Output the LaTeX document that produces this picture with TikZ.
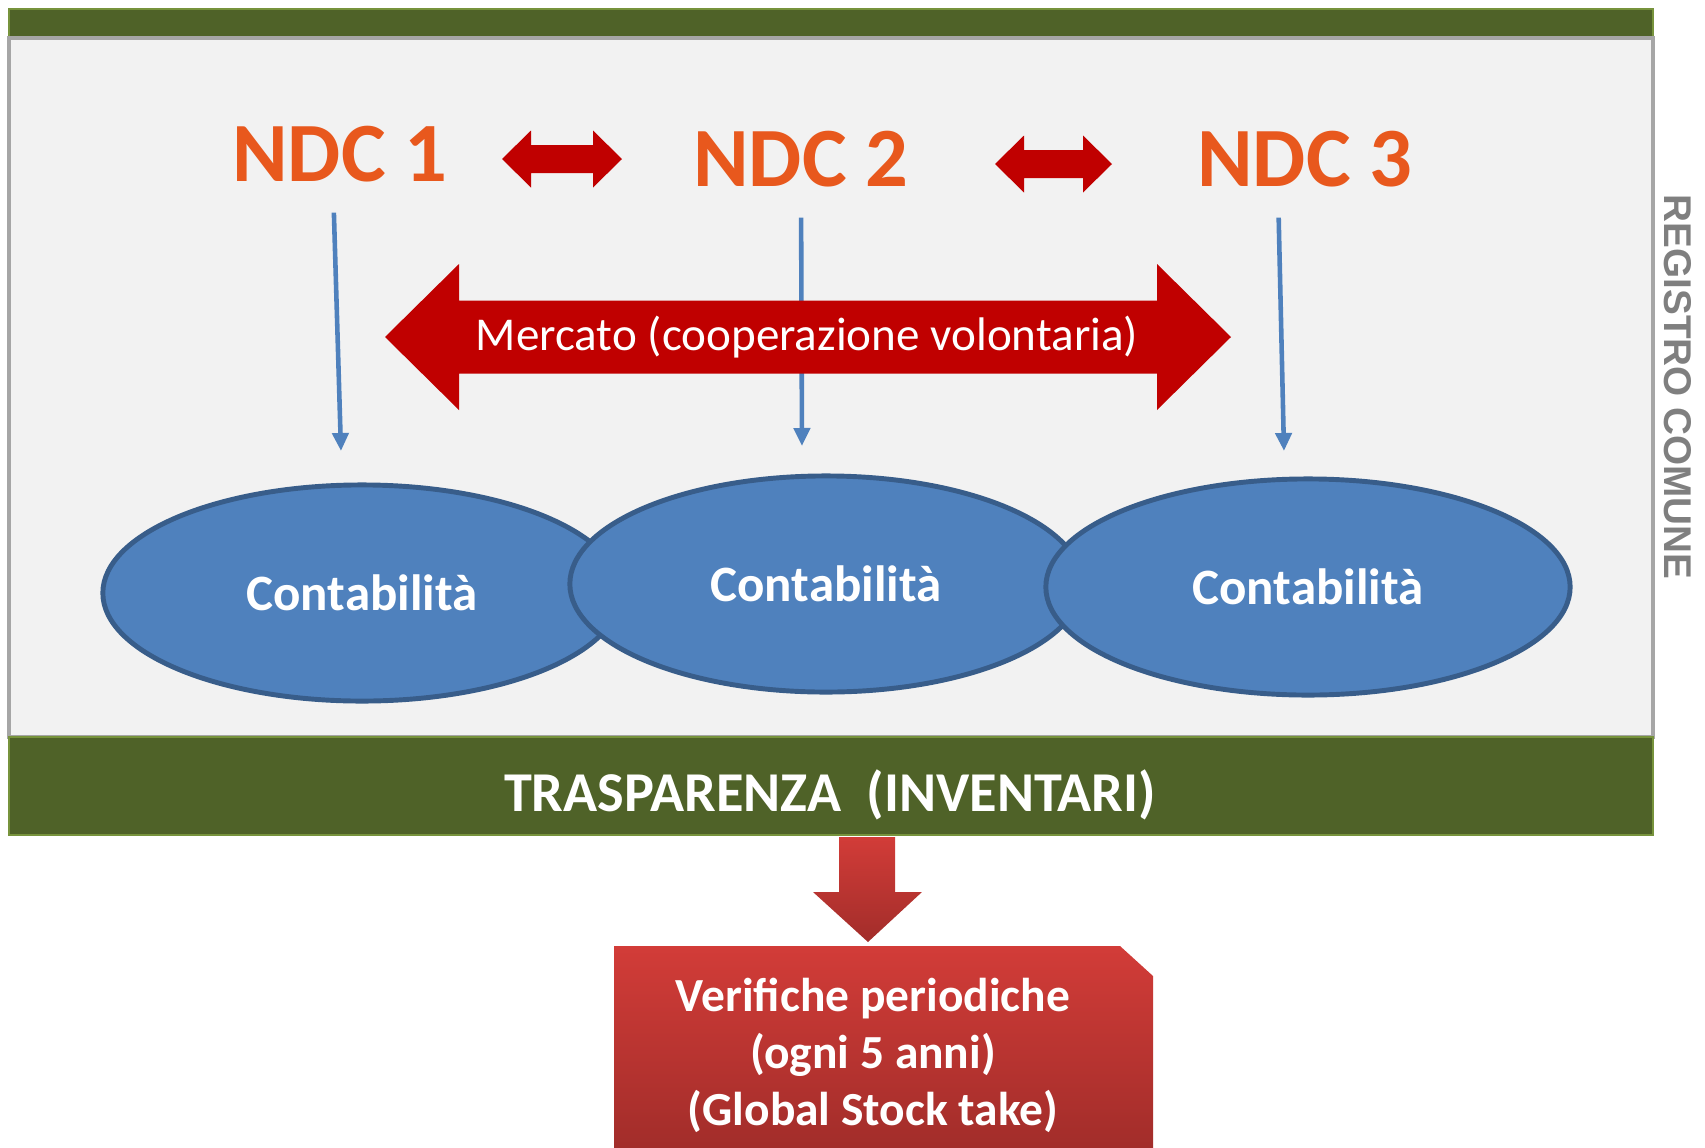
\documentclass[tikz,border=0pt]{standalone}
\usepackage{fontspec}
\setmainfont{Carlito}
\newfontfamily\regfont{Liberation Sans}
\usepackage{xcolor}
\usepackage{tikz}
\usetikzlibrary{arrows.meta, calc, shapes.geometric}

\definecolor{ndcorange}{HTML}{E8581D}
\definecolor{darkred}{HTML}{C00000}
\definecolor{ellblue}{HTML}{4F81BD}
\definecolor{ellborder}{HTML}{385D8A}
\definecolor{bargreen}{HTML}{4F6228}
\definecolor{baredge}{HTML}{77933C}
\definecolor{panelgray}{HTML}{F2F2F2}
\definecolor{bordergray}{HTML}{A6A6A6}
\definecolor{regtext}{HTML}{7F7F7F}
\definecolor{redtop}{HTML}{D23C38}
\definecolor{redbot}{HTML}{A22D2A}

\newcommand{\dblarrow}[6]{%
  \fill[darkred] (#1,#3) -- (#1+#4,#3-#6) -- (#1+#4,#3-#5) -- (#2-#4,#3-#5)
    -- (#2-#4,#3-#6) -- (#2,#3) -- (#2-#4,#3+#6) -- (#2-#4,#3+#5)
    -- (#1+#4,#3+#5) -- (#1+#4,#3+#6) -- cycle;}

\begin{document}
\begin{tikzpicture}[x=0.01cm, y=-0.01cm,
  ndc/.style={text=ndcorange, font=\fontsize{24}{28}\selectfont\bfseries, inner sep=0pt},
  conta/.style={ellipse, fill=ellblue, draw=ellborder, line width=1.4pt, text=white,
    font=\fontsize{14.5}{17}\selectfont\bfseries, minimum width=#1, minimum height=2.16cm},
  link/.style={draw=ellblue, line width=1.3pt, -{Triangle[length=0.18cm, width=0.16cm]}, shorten <=0.3cm}]
\useasboundingbox (0,0) rectangle (1705,1148);
\filldraw[fill=bargreen, draw=baredge, line width=0.6pt] (9,9) rectangle (1653,38);
\filldraw[fill=panelgray, draw=bordergray, line width=1.2pt] (9,38) rectangle (1653,737);
\filldraw[fill=bargreen, draw=baredge, line width=0.6pt] (9,737) rectangle (1653,835);
\node[text=white, font=\fontsize{16}{19}\selectfont\bfseries] (transp) at (830,795) {TRASPARENZA \ (INVENTARI)};
\node[rotate=-90, text=regtext, font=\regfont\fontsize{11}{13}\selectfont\bfseries] (registro) at (1678,387) {REGISTRO COMUNE};

\node[ndc] (ndc1) at (340,154) {NDC 1};
\node[ndc] (ndc2) at (801,159) {NDC 2};
\node[ndc] (ndc3) at (1305,159) {NDC 3};
\dblarrow{502}{622}{159}{29}{14}{28.5}
\dblarrow{995}{1112}{164}{29}{14}{28.5}

\coordinate (in1) at (341,451);
\coordinate (in2) at (802,446);
\coordinate (in3) at (1284,451);
\draw[link] ([xshift=-0.07cm]ndc1.south) -- (in1);
\draw[link] (ndc2.south) -- (in2);
\draw[link] ([xshift=-0.27cm]ndc3.south) -- (in3);

\dblarrow{385}{1231}{337}{74}{36.5}{73}
\node[text=white, font=\fontsize{13.4}{15}\selectfont] (mercato) at (807,337) {Mercato (cooperazione volontaria)};

\node[conta=5.18cm] (ell1) at (362,593) {Contabilità};
\node[conta=5.12cm] (ell2) at (826,584) {Contabilità};
\node[conta=5.24cm] (ell3) at (1308,587) {Contabilità};

\shade[top color=redtop, bottom color=redbot] (839,837) -- (895,837) -- (895,892) -- (922,892)
  -- (868,942) -- (813,892) -- (839,892) -- cycle;
\shade[top color=redtop, bottom color=redbot] (614,946) -- (1120,946) -- (1153,976)
  -- (1153,1148) -- (614,1148) -- cycle;
\node[align=center, text=white, font=\fontsize{13.5}{16.2}\selectfont\bfseries] (verifiche) at (873,1055)
  {Verifiche periodiche\\(ogni 5 anni)\\(Global Stock take)};
\end{tikzpicture}
\end{document}
